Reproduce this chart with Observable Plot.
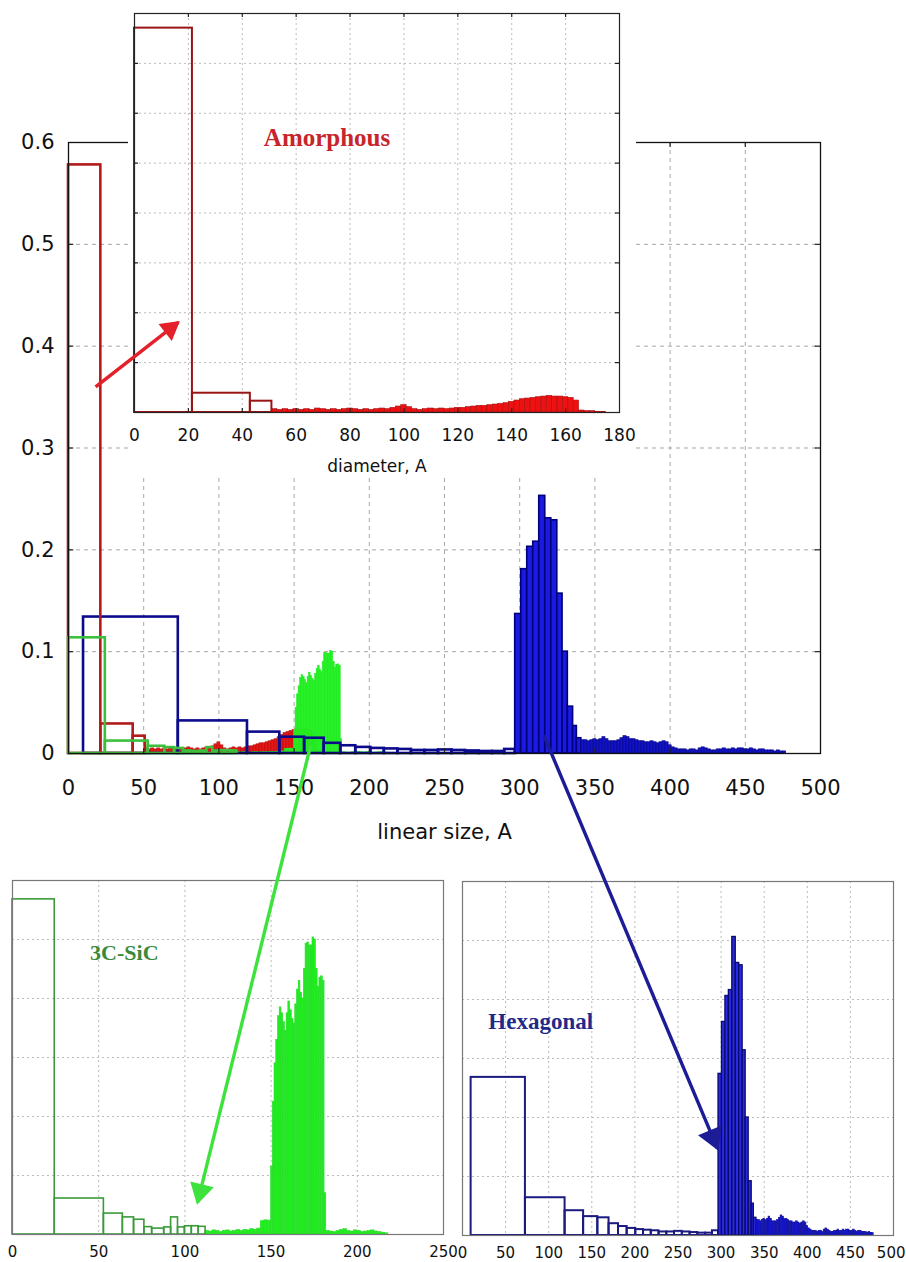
<!DOCTYPE html>
<html><head><meta charset="utf-8">
<script src="https://cdn.jsdelivr.net/npm/d3@7"></script>
<script src="https://cdn.jsdelivr.net/npm/@observablehq/plot@0.6"></script>
<style>
body{margin:0;background:#fff;}
#wrap{position:relative;width:906px;height:1262px;overflow:hidden;background:#fff;}
#wrap svg{position:absolute;max-width:none;}
</style></head><body><div id="wrap"></div>
<script>
// ---------- tick labels ----------
const mainXTicks = [0, 50, 100, 150, 200, 250, 300, 350, 400, 450, 500];
const mainYTicks = [0, 0.1, 0.2, 0.3, 0.4, 0.5, 0.6];
const insetXTicks = [0, 20, 40, 60, 80, 100, 120, 140, 160, 180];
const insetYGrid = [0.075, 0.15, 0.225, 0.3, 0.375, 0.45, 0.525];
const sicXTicks = [0, 50, 100, 150, 200, 250];
const sicYGrid = [0.02, 0.04, 0.06, 0.08, 0.1];
const hexXTicks = [0, 50, 100, 150, 200, 250, 300, 350, 400, 450];
const hexXLastTick = [500];
const hexYGrid = [0.05, 0.1, 0.15, 0.2, 0.25];

// ---------- Amorphous (red) ----------
const amorCoarseX1 = [0, 21.5, 43];
const amorCoarseX2 = [21.5, 43, 51];
const amorCoarseY  = [0.578, 0.029, 0.017];
const amorDenseStart = 51, amorDenseWidth = 2;
const amorDenseY = [
  0.005,0.004,0.005,0.004,0.005,
  0.004,0.005,0.004,0.006,0.005,
  0.004,0.005,0.004,0.005,0.006,
  0.005,0.004,0.005,0.004,0.005,
  0.006,0.005,0.007,0.009,0.011,
  0.008,0.005,0.004,0.005,0.006,
  0.005,0.006,0.005,0.006,0.007,
  0.007,0.008,0.009,0.010,0.010,
  0.011,0.012,0.013,0.014,0.016,
  0.018,0.020,0.021,0.022,0.023,
  0.024,0.025,0.024,0.024,0.023,
  0.022,0.018,0.003,0.002,0.002,
  0.001,0.001];

// ---------- 3C-SiC (green) ----------
const sicCoarseX1 = [0, 24.5, 53, 64, 70.5, 76.5, 81, 88, 92, 96, 100, 104, 108];
const sicCoarseX2 = [24.5, 53, 64, 70.5, 76.5, 81, 88, 92, 96, 100, 104, 108, 112];
const sicCoarseY  = [0.1136, 0.0122, 0.0071, 0.0058, 0.005, 0.0025, 0.002, 0.0024, 0.0058, 0.0024, 0.0028, 0.0028, 0.0026];
const sicLowStart = 112, sicLowWidth = 2;
const sicLowY = [0.0012,0.0010,0.0014,0.0012,0.0008,0.0012,0.0014,0.0010,0.0012,0.0015,
                 0.0012,0.0016,0.0014,0.0018,0.0016,0.0020,0.0045,0.0048,0.0047];
const sicPeakStart = 150, sicPeakWidth = 1;
const sicPeakY = [0.023,0.045,0.058,0.066,0.074,0.077,0.075,0.072,0.069,0.075,
                  0.079,0.076,0.073,0.0715,0.078,0.083,0.086,0.082,0.080,0.090,
                  0.0985,0.099,0.098,0.098,0.1007,0.100,0.090,0.084,0.087,0.0875,
                  0.086,0.014];
const sicTailStart = 182, sicTailWidth = 2;
const sicTailY = [0.0012,0.0010,0.0008,0.0012,0.0015,0.0018,0.0012,0.0010,0.0014,
                  0.0012,0.0008,0.0010,0.0012,0.0014,0.0010,0.0008,0.0006,0.0004];

// ---------- Hexagonal (blue) ----------
const hexCoarseX1 = [10, 73, 119, 140.5, 157, 170, 181, 191, 201, 210, 219, 228, 237, 246, 255, 264, 273, 282, 290];
const hexCoarseX2 = [73, 119, 140.5, 157, 170, 181, 191, 201, 210, 219, 228, 237, 246, 255, 264, 273, 282, 290, 297];
const hexCoarseY  = [0.134, 0.032, 0.021, 0.016, 0.015, 0.010, 0.0076, 0.006, 0.005, 0.0045, 0.004, 0.003, 0.003, 0.0035, 0.003, 0.0025, 0.002, 0.002, 0.004];
const hexPeakX1 = [297, 301, 305, 309, 313, 317, 321, 325, 328.5, 332, 335.5, 338];
const hexPeakX2 = [301, 305, 309, 313, 317, 321, 325, 328.5, 332, 335.5, 338, 341];
const hexPeakY  = [0.137, 0.181, 0.203, 0.208, 0.253, 0.231, 0.229, 0.157, 0.100, 0.046, 0.027, 0.015];
const hexTailStart = 341, hexTailWidth = 2;
const hexTailY = [
  0.013,0.013,0.012,0.013,0.014,0.013,0.014,0.016,0.014,0.012,
  0.012,0.012,0.013,0.015,0.017,0.016,0.014,0.014,0.013,0.012,
  0.012,0.011,0.011,0.012,0.011,0.010,0.011,0.012,0.011,0.008,
  0.006,0.005,0.004,0.004,0.004,0.003,0.004,0.004,0.003,0.005,
  0.006,0.005,0.004,0.003,0.003,0.004,0.004,0.005,0.004,0.004,
  0.005,0.004,0.005,0.005,0.004,0.004,0.005,0.004,0.003,0.004,
  0.004,0.003,0.003,0.003,0.002,0.003,0.002,0.002];

// ---------- annotations ----------
const labelAmor = [{x: 48, y: 0.4135, text: "Amorphous"}];
const labelSic  = [{x: 45, y: 0.0954, text: "3C-SiC"}];
const labelHex  = [{x: 30, y: 0.181, text: "Hexagonal"}];
// arrows in main-chart data coordinates (start -> tip)
const arrows = [
  {x1: 18,  y1: 0.36,  x2: 73,    y2: 0.4234, color: "#e4202a", head: 8},
  {x1: 161, y1: 0.008, x2: 85.8,  y2: -0.441, color: "#3de23d", head: 9},
  {x1: 316, y1: 0.018, x2: 431.5, y2: -0.388, color: "#1c1c96", head: 9.5}
];

// ---------- build bins ----------
const coarse = (a, b, ys) => ys.map((y, i) => ({x1: a[i], x2: b[i], y}));
const dense = (s, w, ys) => ys.map((y, i) => ({x1: s + i * w, x2: s + (i + 1) * w, y}));

const amorC = coarse(amorCoarseX1, amorCoarseX2, amorCoarseY);
const amorD = dense(amorDenseStart, amorDenseWidth, amorDenseY);
const sicC = coarse(sicCoarseX1, sicCoarseX2, sicCoarseY);
const sicD = [...dense(sicLowStart, sicLowWidth, sicLowY), ...dense(sicPeakStart, sicPeakWidth, sicPeakY), ...dense(sicTailStart, sicTailWidth, sicTailY)];
const hexC = coarse(hexCoarseX1, hexCoarseX2, hexCoarseY);
const hexP = coarse(hexPeakX1, hexPeakX2, hexPeakY);
const hexD = dense(hexTailStart, hexTailWidth, hexTailY);

const R = {x1: "x1", x2: "x2", y: "y"};
const wrap = document.getElementById("wrap");
function place(svg, left, top) { svg.style.left = left + "px"; svg.style.top = top + "px"; wrap.appendChild(svg); }

const FONT = "DejaVu Sans, Arial, sans-serif";
const SERIF = "Liberation Serif, Times New Roman, serif";
const mainLayout = {width: 906, height: 1262, marginLeft: 68, marginRight: 86, marginTop: 142, marginBottom: 509};
const grid = {stroke: "#a8a8a8", strokeOpacity: 1, strokeDasharray: "4,4"};
const fineGrid = {stroke: "#bbbbbb", strokeOpacity: 1, strokeDasharray: "2,3"};

// small inward (MATLAB-style) tick marks on all four sides of a frame
function frameTicks(xs, ys, xDom, yDom, xLen, yLen, color) {
  return [
    Plot.ruleX(xs, {x: d => d, y1: yDom[0], y2: yDom[0] + yLen, stroke: color, strokeWidth: 1.2}),
    Plot.ruleX(xs, {x: d => d, y1: yDom[1] - yLen, y2: yDom[1], stroke: color, strokeWidth: 1.2}),
    Plot.ruleY(ys, {y: d => d, x1: xDom[0], x2: xDom[0] + xLen, stroke: color, strokeWidth: 1.2}),
    Plot.ruleY(ys, {y: d => d, x1: xDom[1] - xLen, x2: xDom[1], stroke: color, strokeWidth: 1.2})
  ];
}

// ---------- main chart ----------
const main = Plot.plot({
  ...mainLayout,
  style: {background: "white", fontFamily: FONT, fontSize: "19px", color: "#111"},
  x: {domain: [0, 500]},
  y: {domain: [0, 0.6]},
  marks: [
    Plot.gridX({ticks: mainXTicks.slice(1, -1), ...grid}),
    Plot.gridY({ticks: mainYTicks.slice(1, -1), ...grid}),
    Plot.rectY(amorD, {...R, fill: "#e81515", stroke: "#b01010", strokeWidth: 0.6}),
    Plot.rectY(sicD, {...R, fill: "#22ee22", stroke: "#22ee22", strokeWidth: 0.6}),
    Plot.rectY(hexC, {...R, fill: "none", stroke: "#0b0b8c", strokeWidth: 2.6}),
    Plot.rectY(hexP, {...R, fill: "#1a1ae0", stroke: "#00007a", strokeWidth: 1.6}),
    Plot.rectY(hexD, {...R, fill: "#1212c8", stroke: "#0a0a90", strokeWidth: 0.8}),
    Plot.rectY(amorC, {...R, fill: "none", stroke: "#b31b1b", strokeWidth: 2.6}),
    Plot.rectY(sicC, {...R, fill: "none", stroke: "#3cbf3c", strokeWidth: 2.6}),
    ...frameTicks(mainXTicks.slice(1, -1), mainYTicks.slice(1, -1), [0, 500], [0, 0.6], 3.5, 0.005, "#222"),
    Plot.frame({stroke: "#111", strokeWidth: 1.3}),
    Plot.axisX({ticks: mainXTicks, tickSize: 0, tickPadding: 27, fontSize: 21, label: "linear size, A", labelAnchor: "center", labelOffset: 85, labelArrow: "none"}),
    Plot.axisY({ticks: mainYTicks, tickSize: 0, tickPadding: 14, fontSize: 21, label: null,
      tickFormat: d => d === 0 ? "0" : d3.format(".1f")(d)})
  ]
});
place(main, 0, 0);

// ---------- Amorphous inset ----------
const inset = Plot.plot({
  width: 508, height: 478, marginLeft: 6, marginRight: 17, marginTop: 13, marginBottom: 66,
  style: {background: "white", fontFamily: FONT, fontSize: "14px", color: "#111"},
  x: {domain: [0, 180]},
  y: {domain: [0, 0.6], axis: null},
  marks: [
    Plot.gridX({ticks: insetXTicks.slice(1, -1), ...fineGrid}),
    Plot.gridY({ticks: insetYGrid, ...fineGrid}),
    Plot.rectY(amorD, {...R, fill: "#ee1111", stroke: "#a81010", strokeWidth: 0.6}),
    Plot.rectY(amorC, {...R, fill: "none", stroke: "#9a1414", strokeWidth: 2}),
    Plot.text(labelAmor, {x: "x", y: "y", text: "text", textAnchor: "start", fill: "#c8242c", fontFamily: SERIF, fontWeight: "bold", fontSize: 25}),
    ...frameTicks(insetXTicks.slice(1, -1), insetYGrid, [0, 180], [0, 0.6], 1.5, 0.006, "#222"),
    Plot.frame({stroke: "#222", strokeWidth: 1.2}),
    Plot.axisX({ticks: insetXTicks, tickSize: 0, tickPadding: 16, fontSize: 17, label: "diameter, A", labelAnchor: "center", labelOffset: 59, labelArrow: "none"})
  ]
});
place(inset, 128, 0);

// ---------- 3C-SiC panel ----------
const sic = Plot.plot({
  width: 470, height: 402, marginLeft: 12, marginRight: 27, marginTop: 20, marginBottom: 28,
  style: {background: "transparent", fontFamily: FONT, fontSize: "16px", color: "#111"},
  x: {domain: [0, 250]},
  y: {domain: [0, 0.12], axis: null},
  marks: [
    Plot.gridX({ticks: sicXTicks.slice(1, -1), ...fineGrid}),
    Plot.gridY({ticks: sicYGrid, ...fineGrid}),
    Plot.rectY(sicD, {...R, fill: "#22ee22", stroke: "#22dd22", strokeWidth: 0.6}),
    Plot.rectY(sicC, {...R, fill: "none", stroke: "#3a9a3a", strokeWidth: 1.6}),
    Plot.text(labelSic, {x: "x", y: "y", text: "text", textAnchor: "start", fill: "#3a8a3a", fontFamily: SERIF, fontWeight: "bold", fontSize: 22}),
    Plot.frame({stroke: "#777", strokeWidth: 1.2}),
    Plot.axisX({ticks: sicXTicks, tickSize: 0, tickPadding: 12, fontSize: 15, label: null})
  ]
});
place(sic, 0, 860);

// ---------- Hexagonal panel ----------
const hex = Plot.plot({
  width: 456, height: 402, marginLeft: 12, marginRight: 13, marginTop: 21, marginBottom: 27,
  style: {background: "transparent", fontFamily: FONT, fontSize: "16px", color: "#111"},
  x: {domain: [0, 500]},
  y: {domain: [0, 0.3], axis: null},
  marks: [
    Plot.gridX({ticks: [50, 100, 150, 200, 250, 300, 350, 400, 450], ...fineGrid}),
    Plot.gridY({ticks: hexYGrid, ...fineGrid}),
    Plot.rectY(hexC, {...R, fill: "none", stroke: "#1a1a80", strokeWidth: 2}),
    Plot.rectY(hexP, {...R, fill: "#2a2ae0", stroke: "#0a0a6a", strokeWidth: 1.3}),
    Plot.rectY(hexD, {...R, fill: "#1515cc", stroke: "#10109a", strokeWidth: 0.6}),
    Plot.text(labelHex, {x: "x", y: "y", text: "text", textAnchor: "start", fill: "#1f2a8a", fontFamily: SERIF, fontWeight: "bold", fontSize: 23}),
    Plot.frame({stroke: "#777", strokeWidth: 1.2}),
    Plot.axisX({ticks: hexXTicks, tickSize: 0, tickPadding: 12, fontSize: 15, label: null}),
    Plot.axisX({ticks: hexXLastTick, tickSize: 0, tickPadding: 12, fontSize: 15, label: null, textAnchor: "end", dx: 12})
  ]
});
place(hex, 450, 860);

// ---------- arrow overlay (main-chart coordinates) ----------
const sx = main.scale("x"), sy = main.scale("y");
const px = v => sx.apply(v), py = v => sy.apply(v);
const heads = arrows.map(a => {
  const dx = px(a.x2) - px(a.x1), dy = py(a.y2) - py(a.y1);
  const len = Math.hypot(dx, dy);
  const back = a.head * 1.3 / len;          // centroid sits behind the tip
  return {
    x: a.x2 - (a.x2 - a.x1) * back,
    y: a.y2 - (a.y2 - a.y1) * back,
    rotate: Math.atan2(dx, -dy) * 180 / Math.PI,
    color: a.color, r: a.head
  };
});
const overlay = Plot.plot({
  ...mainLayout,
  style: {background: "transparent"},
  x: {domain: [0, 500], axis: null},
  y: {domain: [0, 0.6], axis: null},
  marks: [
    ...arrows.map(a => Plot.link([a], {x1: "x1", y1: "y1", x2: "x2", y2: "y2", stroke: a.color, strokeWidth: 3.4})),
    ...heads.map(h => Plot.dot([h], {x: "x", y: "y", symbol: "triangle", r: h.r, rotate: h.rotate, fill: h.color, stroke: "none"}))
  ]
});
overlay.style.pointerEvents = "none";
place(overlay, 0, 0);
</script></body></html>
